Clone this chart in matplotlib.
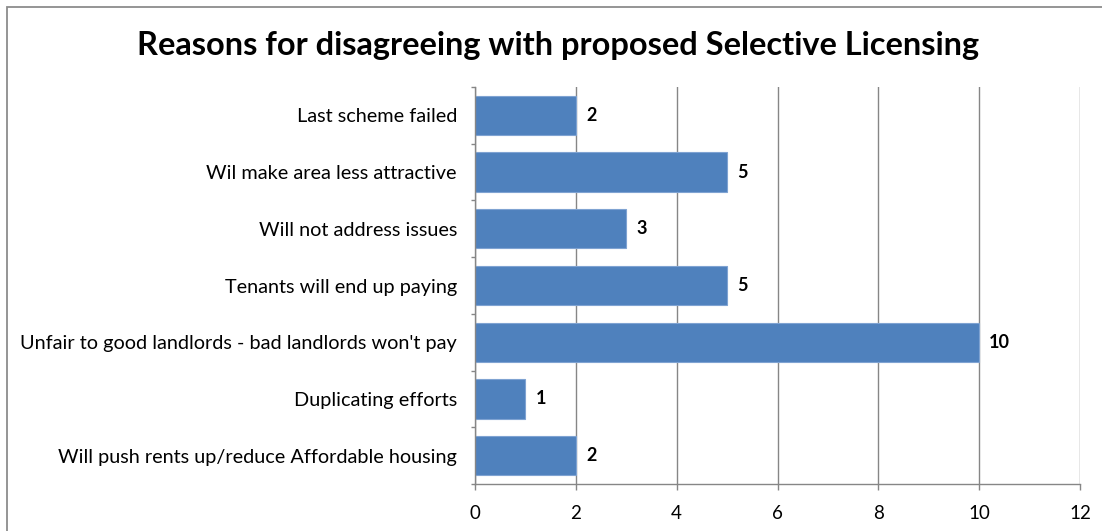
import matplotlib
matplotlib.use("Agg")
import matplotlib.pyplot as plt
from matplotlib.patches import Rectangle

plt.rcParams['font.family'] = ['Lato', 'DejaVu Sans']

# survey answers, top row first
reasons = [
    "Last scheme failed",
    "Wil make area less attractive",
    "Will not address issues",
    "Tenants will end up paying",
    "Unfair to good landlords - bad landlords won't pay",
    "Duplicating efforts",
    "Will push rents up/reduce Affordable housing",
]
counts = [2, 5, 3, 5, 10, 1, 2]
xticks = [0, 2, 4, 6, 8, 10, 12]

bar_col = "#4F81BD"
grid_col = "#868686"

fig = plt.figure(figsize=(11.02, 5.31), dpi=100)
fig.patch.set_facecolor("white")

# chart frame (runs off the right and bottom edge)
fig.patches.append(Rectangle((7 / 1102, -0.2), 1.2, 1.2 - 7 / 531,
                             transform=fig.transFigure, fill=False,
                             edgecolor="#8c8c8c", lw=1.3))

ax = fig.add_axes([475 / 1102, 47 / 531, 605 / 1102, 397 / 531])

ypos = list(range(len(reasons)))
ax.barh(ypos, counts, height=0.695, color=bar_col,
        edgecolor="#7fa3d2", linewidth=0.8, zorder=3)

for y, v in zip(ypos, counts):
    ax.text(v + 0.2, y, str(v), va="center", ha="left",
            fontsize=13, fontweight="bold", color="black")

ax.set_xlim(0, 12)
ax.set_ylim(len(reasons) - 0.5, -0.5)

ax.set_xticks(xticks)
ax.set_xticklabels([str(t) for t in xticks], fontsize=13.5)
ax.tick_params(axis="x", direction="out", length=4.3, width=1,
               color=grid_col, pad=11)

# category ticks sit between the bars, labels in the middle
ax.set_yticks([i - 0.5 for i in range(len(reasons) + 1)])
ax.set_yticklabels([])
ax.set_yticks(ypos, minor=True)
ax.set_yticklabels(reasons, minor=True, fontsize=14.3)
ax.tick_params(axis="y", which="major", direction="out", length=3,
               width=1, color=grid_col)
ax.tick_params(axis="y", which="minor", length=0, pad=13)

ax.grid(axis="x", color=grid_col, lw=1, zorder=0)
ax.set_axisbelow(True)
for s in ["top", "right"]:
    ax.spines[s].set_visible(False)
for s in ["left", "bottom"]:
    ax.spines[s].set_color(grid_col)
    ax.spines[s].set_linewidth(1)
ax.spines["left"].set_zorder(4)

fig.text(558 / 1102, 1 - 46 / 531,
         "Reasons for disagreeing with proposed Selective Licensing",
         ha="center", va="center", fontsize=23.4, fontweight="bold")

fig.savefig("out.png", dpi=100)
